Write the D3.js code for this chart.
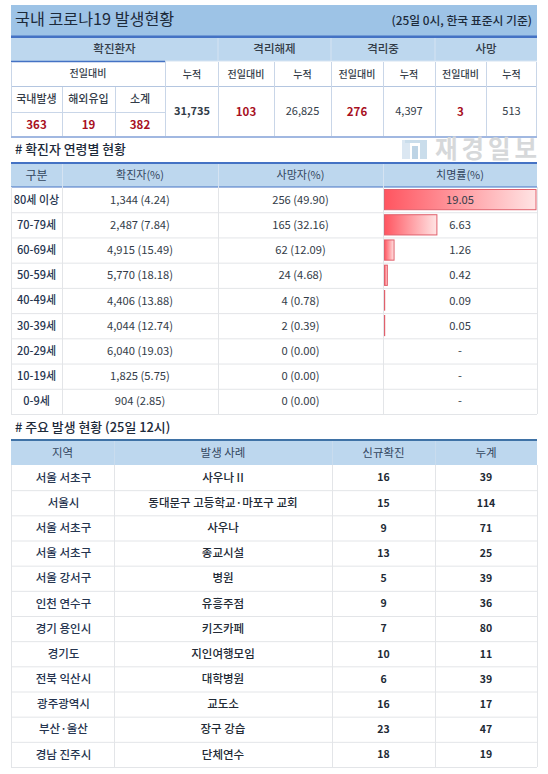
<!DOCTYPE html>
<html><head><meta charset="utf-8">
<script src="https://cdn.jsdelivr.net/npm/d3@7"></script>
<style>html,body{margin:0;padding:0;background:#fff}svg{display:block}text{font-family:"Noto Sans CJK KR","Noto Sans",sans-serif}</style>
</head><body><svg id="c" width="548" height="774"></svg>
<script>
// ---- data ----
const titleText = "국내 코로나19 발생현황";
const basisText = "(25일 0시, 한국 표준시 기준)";
const summaryGroups = ["확진환자","격리해제","격리중","사망"];
const subLabels = ["전일대비","누적"];
const domesticLabels = ["국내발생","해외유입","소계"];
const domesticValues = [363,19,382];
const cumulative = [31735,26825,4397,513];
const dailyChange = [103,276,3];
const ageTitle = "# 확진자 연령별 현황";
const ageHeaders = ["구분","확진자(%)","사망자(%)","치명률(%)"];
const ages = ["80세 이상","70-79세","60-69세","50-59세","40-49세","30-39세","20-29세","10-19세","0-9세"];
const confirmed = [1344,2487,4915,5770,4406,4044,6040,1825,904];
const confirmedPct = [4.24,7.84,15.49,18.18,13.88,12.74,19.03,5.75,2.85];
const deaths = [256,165,62,24,4,2,0,0,0];
const deathPct = [49.90,32.16,12.09,4.68,0.78,0.39,0,0,0];
const fatality = [19.05,6.63,1.26,0.42,0.09,0.05,null,null,null];
const outbreakTitle = "# 주요 발생 현황 (25일 12시)";
const outbreakHeaders = ["지역","발생 사례","신규확진","누계"];
const regions = ["서울 서초구","서울시","서울 서초구","서울 서초구","서울 강서구","인천 연수구","경기 용인시","경기도","전북 익산시","광주광역시","부산·울산","경남 진주시"];
const cases = ["사우나 II","동대문구 고등학교·마포구 교회","사우나","종교시설","병원","유흥주점","키즈카페","지인여행모임","대학병원","교도소","장구 강습","단체연수"];
const newCases = [16,15,9,13,5,9,7,10,6,16,23,18];
const totals = [39,114,71,25,39,36,80,11,39,17,47,19];

// ---- layout & style ----
const svg = d3.select("#c");
const L=11,R=537;
const BLUE="#4472c4",HEAD="#bdd7ee",TITLE="#9dc3e6",GRID="#e3e5e8",SGRID="#b4c6e0";
const INK="#333c48",NAVY="#25344f",RED="#a8101e";
const fmt=d3.format(",");
function rect(x0,y0,x1,y1,f){svg.append("rect").attr("x",x0).attr("y",y0).attr("width",x1-x0).attr("height",y1-y0).attr("fill",f);}
function line(x0,y0,x1,y1,c,w=1){svg.append("line").attr("x1",x0).attr("y1",y0).attr("x2",x1).attr("y2",y1).attr("stroke",c).attr("stroke-width",w);}
function text(s,x,y,o={}){return svg.append("text").text(s).attr("x",x).attr("y",y).attr("dy","0.36em")
  .attr("text-anchor",o.a||"middle").attr("font-size",o.s||11).attr("font-weight",o.w||400).attr("fill",o.c||INK);}

// defs
const defs=svg.append("defs");
const g=defs.append("linearGradient").attr("id","bar").attr("x1",0).attr("x2",1).attr("y1",0).attr("y2",0);
g.append("stop").attr("offset","0%").attr("stop-color","#ff5560");
g.append("stop").attr("offset","100%").attr("stop-color","#ffe4e4");

// ---- title ----
rect(L,5,R,36,TITLE);
rect(L,35.5,R,38,BLUE);
text(titleText,15,19.5,{a:"start",s:16.2,c:"#1c2a3a"});
text(basisText,532,21,{a:"end",s:11.8,w:500,c:"#1c2a3a"});

// ---- summary table ----
const sx=[11,62,115,165,218,274,331,383,435,486,537];
rect(L,38,R,61,HEAD);
[[11,218],[218,331],[331,435],[435,537]].forEach((e,i)=>text(summaryGroups[i],(e[0]+e[1])/2,48.5,{w:500,s:11.5}));
[218,331,435].forEach(x=>line(x,38,x,61,"#d5e3f2"));
line(11,61.5,165,61.5,BLUE,1.6);
line(165,61,R,61,"#d5e3f2",1);
text(subLabels[0],88,73.5,{s:10,w:500});
text(subLabels[1],192,74.5,{s:10,w:500});
[[218,274,0],[274,331,1],[331,383,0],[383,435,1],[435,486,0],[486,537,1]].forEach(d=>text(subLabels[d[2]],(d[0]+d[1])/2,74.5,{s:10,w:500}));
line(L,86.5,R,86.5,SGRID,1);
line(L,112.5,165,112.5,"#c9d6e8",1);
sx.forEach(x=>{ if(x===11||x===537) return;
  const top=(x===62||x===115)?87:(x===165?61:62);
  const y0=(x===62||x===115)?87:top;
  line(x+.5,y0,x+.5,136,"#c9d6e8",1);
});
line(L+.5,62,L+.5,136,"#c9d6e8",1);line(R-.5,62,R-.5,136,"#c9d6e8",1);
domesticLabels.forEach((s,i)=>{const cx=(sx[i]+sx[i+1])/2;
  text(s,cx,99,{s:11,w:500});
  text(fmt(domesticValues[i]),cx,124.5,{s:11.5,w:700,c:RED});});
text(fmt(cumulative[0]),192,111.5,{s:11,w:600});
text(fmt(dailyChange[0]),246,111.5,{s:11.5,w:700,c:RED});
text(fmt(cumulative[1]),302.5,111.5,{s:11});
text(fmt(dailyChange[1]),357,111.5,{s:11.5,w:700,c:RED});
text(fmt(cumulative[2]),409,111.5,{s:11});
text(fmt(dailyChange[2]),460.5,111.5,{s:11.5,w:700,c:RED});
text(fmt(cumulative[3]),511.5,111.5,{s:11});
line(L,137,R,137,BLUE,1.2);

// ---- watermark ----
const wm=svg.append("g").attr("opacity",.75);
wm.append("rect").attr("x",402).attr("y",140).attr("width",8).attr("height",19).attr("fill","#cfe0ee");
wm.append("rect").attr("x",412).attr("y",146).attr("width",6).attr("height",13).attr("fill","#a9c6dd");
wm.append("rect").attr("x",420).attr("y",140).attr("width",7).attr("height",19).attr("fill","#b9d2e5");
wm.append("rect").attr("x",405).attr("y",140).attr("width",22).attr("height",3).attr("fill","#b9d2e5");
svg.append("text").text("재경일보").attr("x",435).attr("y",158).attr("font-size",24.5).attr("font-weight",700).attr("fill","#d6d8da").attr("textLength",102);

// ---- age table ----
text(ageTitle,15,149.5,{a:"start",s:12.9,w:500,c:"#1c2a3a"});
const ax=[11,62,218,383,537];
const ay=d3.scaleLinear().domain([0,ages.length]).range([187,414]);
rect(L,164,R,187,HEAD);
line(L,163,R,163,BLUE,2);
line(L,187,R,187,BLUE,1);
ageHeaders.forEach((s,i)=>text(s,(ax[i]+ax[i+1])/2,175.5,{s:i?11:12,c:"#33465e"}));
ax.slice(1,4).forEach(x=>line(x+.5,164,x+.5,187,"#d5e3f2"));
const barW=d3.scaleLinear().domain([0,d3.max(fatality)]).range([0,152]);
const rows=svg.append("g").selectAll("g").data(ages).join("g");
rows.each(function(d,i){
  const y0=ay(i),y1=ay(i+1),cy=(y0+y1)/2;
  text(d,(ax[0]+ax[1])/2,cy,{s:11,w:500,c:NAVY});
  text(fmt(confirmed[i])+" ("+confirmedPct[i].toFixed(2)+")",(ax[1]+ax[2])/2,cy,{s:11.2});
  text(deaths[i]+" ("+deathPct[i].toFixed(2)+")",(ax[2]+ax[3])/2,cy,{s:11.2});
  if(fatality[i]!==null){
    svg.append("rect").attr("x",384.5).attr("y",y0+2.5).attr("width",Math.max(barW(fatality[i])-.5,.4)).attr("height",y1-y0-5)
      .attr("fill","url(#bar)").attr("stroke","#e0606c").attr("stroke-width",fatality[i]<.2?.6:1);
  }
  text(fatality[i]===null?"-":fatality[i].toFixed(2),460,cy,{s:11.2});
  line(L,y1+.5,R,y1+.5,GRID);
});
ax.forEach(x=>line(x+.5,187,x+.5,414,GRID));

// ---- outbreak table ----
text(outbreakTitle,15,427.5,{a:"start",s:12.9,w:500,c:"#1c2a3a"});
const ox=[11,114,332,435,537];
const oy=d3.scaleLinear().domain([0,regions.length]).range([465,767]);
rect(L,441,R,465,HEAD);
line(L,440,R,440,"#3f72a6",2);
outbreakHeaders.forEach((s,i)=>text(s,(ox[i]+ox[i+1])/2,452.5,{s:11.5,c:"#33465e"}));
ox.slice(1,4).forEach(x=>line(x+.5,441,x+.5,465,"#c9dcee"));
regions.forEach((d,i)=>{
  const y0=oy(i),y1=oy(i+1),cy=(y0+y1)/2;
  text(d,(ox[0]+ox[1])/2+1,cy,{s:11.5,w:500,c:NAVY});
  text(cases[i],(ox[1]+ox[2])/2,cy,{s:11.5,w:500,c:"#222a35"});
  text(newCases[i],(ox[2]+ox[3])/2,cy,{s:10.5,w:700,c:"#222a35"});
  text(totals[i],(ox[3]+ox[4])/2,cy,{s:10.5,w:700,c:"#222a35"});
  line(L,y1+.5,R,y1+.5,GRID);
});
ox.forEach(x=>line(x+.5,465,x+.5,767,GRID));
</script></body></html>
